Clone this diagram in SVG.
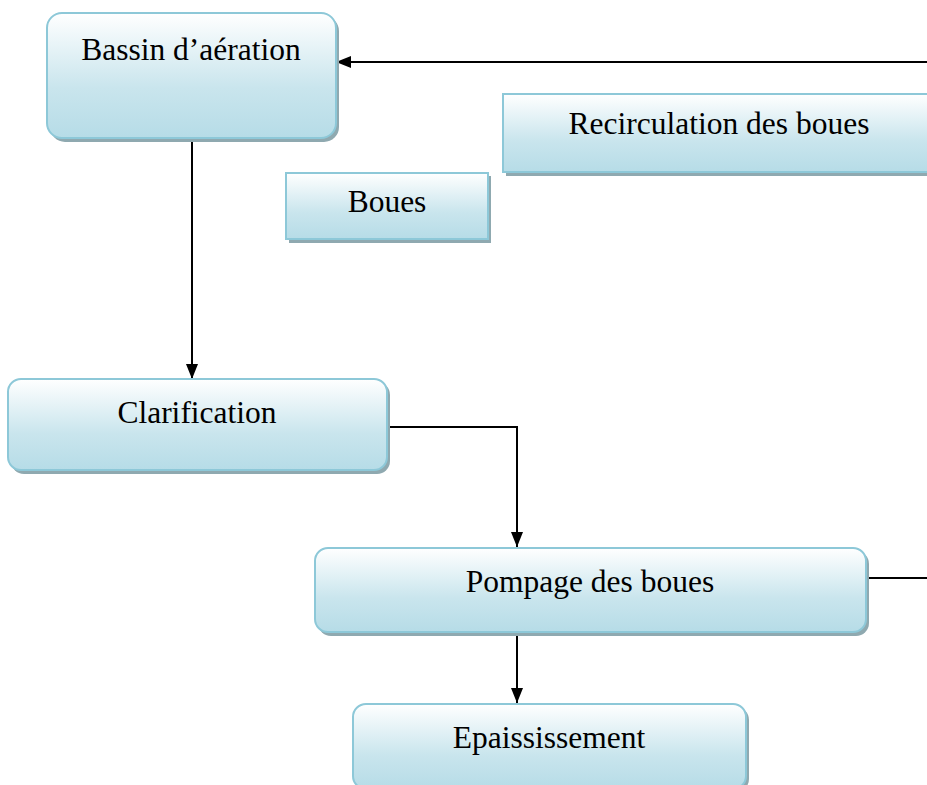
<svg xmlns="http://www.w3.org/2000/svg" width="927" height="785" viewBox="0 0 927 785">
<defs>
<linearGradient id="g" x1="0" y1="0" x2="0" y2="1">
<stop offset="0" stop-color="#ffffff"/>
<stop offset="0.6" stop-color="#c9e5ed"/>
<stop offset="1" stop-color="#b6dce7"/>
</linearGradient>
<marker id="ah" viewBox="0 0 15 12" refX="15" refY="6" markerWidth="15" markerHeight="12" markerUnits="userSpaceOnUse" orient="auto">
<path d="M0,0 L15,6 L0,12 Z" fill="#000"/>
</marker>
</defs>
<style>
.box{fill:url(#g);stroke:#8dc8d8;stroke-width:2}
.sh{fill:#8fa9b0}
.t{font-family:"Liberation Serif","Times New Roman",serif;font-size:31.5px;fill:#000;text-anchor:middle}
.c{fill:none;stroke:#000;stroke-width:2}
</style>
<rect width="927" height="785" fill="#fff"/>
<g id="connectors">
<path class="c" d="M927,62 H336" marker-end="url(#ah)"/>
<path class="c" d="M192,139 V379" marker-end="url(#ah)"/>
<path class="c" d="M388,427 H517 V547" marker-end="url(#ah)"/>
<path class="c" d="M867,578 H927"/>
<path class="c" d="M517,633 V703" marker-end="url(#ah)"/>
</g>
<g id="bassin">
<rect class="sh" x="50" y="16" width="289" height="126" rx="15"/>
<rect class="box" x="47" y="13" width="289" height="125" rx="15"/>
<text class="t" x="191" y="60">Bassin d’aération</text>
</g>
<g id="recirculation">
<rect class="sh" x="506" y="97" width="430" height="79"/>
<rect class="box" x="503" y="94" width="432" height="78"/>
<text class="t" x="719" y="134">Recirculation des boues</text>
</g>
<g id="boues">
<rect class="sh" x="289" y="176" width="202" height="67"/>
<rect class="box" x="286" y="173" width="202" height="66"/>
<text class="t" x="387" y="212">Boues</text>
</g>
<g id="clarification">
<rect class="sh" x="11" y="382" width="379" height="92" rx="13"/>
<rect class="box" x="8" y="379" width="379" height="91" rx="13"/>
<text class="t" x="197" y="423">Clarification</text>
</g>
<g id="pompage">
<rect class="sh" x="318" y="551" width="551" height="85" rx="13"/>
<rect class="box" x="315" y="548" width="551" height="84" rx="13"/>
<text class="t" x="590" y="592">Pompage des boues</text>
</g>
<g id="epaississement">
<rect class="sh" x="356" y="707" width="393" height="85" rx="13"/>
<rect class="box" x="353" y="704" width="393" height="85" rx="13"/>
<text class="t" x="549" y="748">Epaississement</text>
</g>
</svg>
